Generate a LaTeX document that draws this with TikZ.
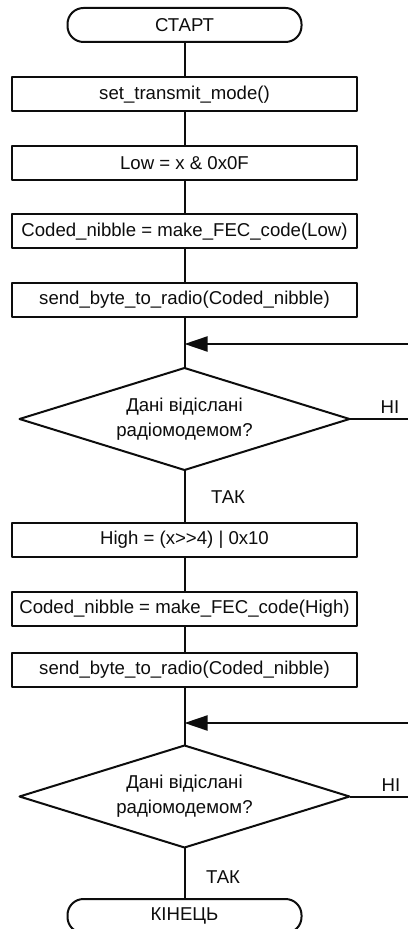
\documentclass[tikz,border=0pt]{standalone}
\usepackage{fontspec}
\setmainfont{Liberation Sans}
\usetikzlibrary{arrows.meta,shapes.geometric}
\definecolor{FlowPaper}{gray}{1}
\definecolor{FlowInk}{gray}{0.05}
\tikzset{
    flow/diagram/.style={
        font=\fontsize{9.3}{11}\selectfont,
        draw=FlowInk,
        text=FlowInk,
        line width=1pt,
        line join=round,
        every node/.style={inner sep=1pt, outer sep=0pt}
    },
    flow/terminal/.style={
        draw=FlowInk, line width=1pt, rounded corners=8pt,
        minimum width=117pt, minimum height=17pt
    },
    flow/process/.style={
        draw=FlowInk, line width=1pt,
        minimum width=172.5pt, minimum height=17pt
    },
    flow/decision/.style={
        diamond, draw=FlowInk, line width=1pt, aspect=3.2,
        minimum width=165pt, minimum height=51pt, inner sep=0pt,
        align=center, font=\fontsize{9.3}{12.5}\selectfont
    },
    flow/line/.style={draw=FlowInk, line width=1pt},
    flow/return/.style={
        draw=FlowInk, line width=1pt,
        -{Triangle[length=11.5pt, width=7.5pt]}
    },
    flow/label/.style={inner sep=0pt}
}
\begin{document}
\begin{tikzpicture}[flow/diagram, x=0.5pt, y=-0.5pt]
    \useasboundingbox[fill=FlowPaper] (0,0) rectangle (407,929);

    % low nibble
    \node[flow/terminal] (start) at (184.5,25) {СТАРТ};
    \node[flow/process] (setmode) at (184.5,94.5) {set\_transmit\_mode()};
    \node[flow/process] (low) at (184.5,163.5) {Low = x \& 0x0F};
    \node[flow/process] (codelow) at (184.5,231.5) {Coded\_nibble = make\_FEC\_code(Low)};
    \node[flow/process] (sendlow) at (184.5,300) {send\_byte\_to\_radio(Coded\_nibble)};
    \node[flow/decision] (asklow) at (184.5,419) {Дані відіслані\\радіомодемом?};
    \node[flow/label] (yeslow) at (228,497) {ТАК};
    \node[flow/label] (nolow) at (390,407) {НІ};
    \coordinate (retlow) at (410,344);
    \coordinate (exitlow) at (410,419);

    % high nibble
    \node[flow/process] (high) at (184.5,540) {High = (x>{}>4) | 0x10};
    \node[flow/process] (codehigh) at (184.5,608.5) {Coded\_nibble = make\_FEC\_code(High)};
    \node[flow/process] (sendhigh) at (184.5,669.5) {send\_byte\_to\_radio(Coded\_nibble)};
    \node[flow/decision] (askhigh) at (184.5,796.5) {Дані відіслані\\радіомодемом?};
    \node[flow/label] (yeshigh) at (223,877) {ТАК};
    \node[flow/label] (nohigh) at (391,785) {НІ};
    \node[flow/terminal] (stop) at (184.5,916) {КІНЕЦЬ};
    \coordinate (rethigh) at (410,723);
    \coordinate (exithigh) at (410,796.5);

    \draw[flow/line] (start) -- (setmode)
                     (setmode) -- (low)
                     (low) -- (codelow)
                     (codelow) -- (sendlow)
                     (sendlow) -- (asklow)
                     (asklow) -- (high)
                     (high) -- (codehigh)
                     (codehigh) -- (sendhigh)
                     (sendhigh) -- (askhigh)
                     (askhigh) -- (stop);
    \draw[flow/line] (asklow.east) -- (exitlow)
                     (askhigh.east) -- (exithigh);
    \draw[flow/return] (retlow) -- (sendlow.south |- retlow);
    \draw[flow/return] (rethigh) -- (sendhigh.south |- rethigh);
\end{tikzpicture}
\end{document}
